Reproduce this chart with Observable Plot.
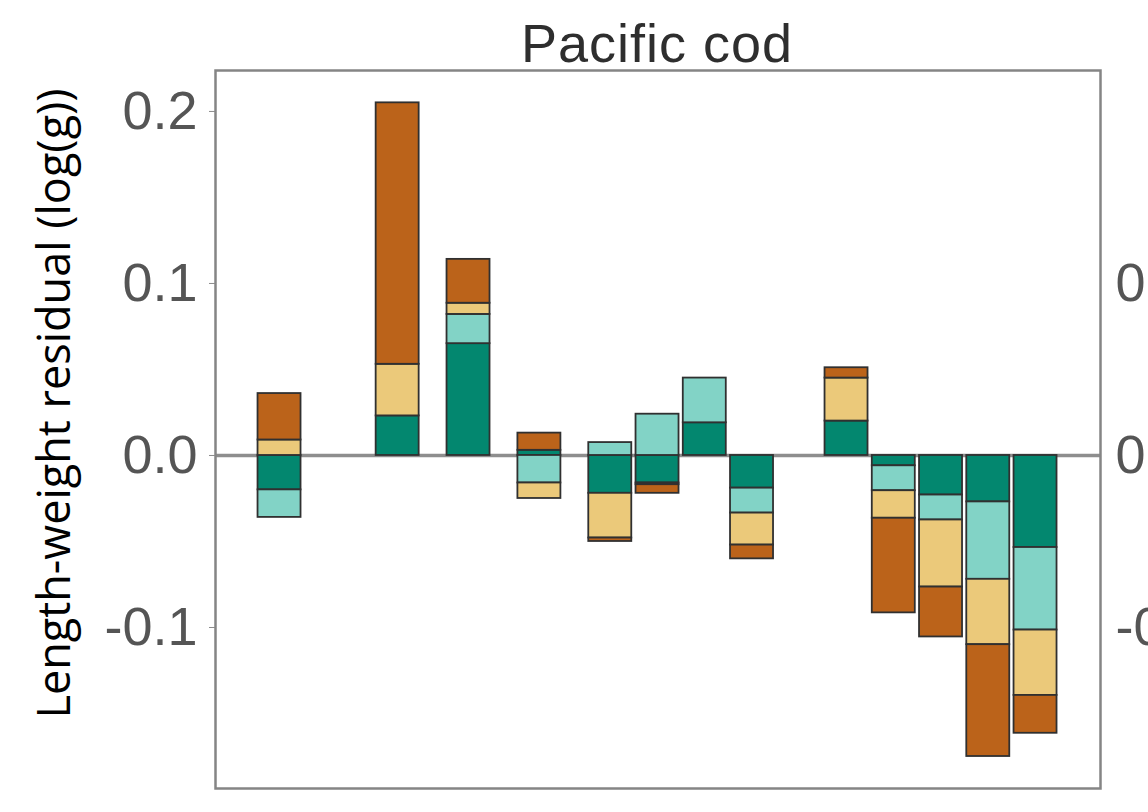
<!DOCTYPE html>
<html>
<head>
<meta charset="utf-8">
<script src="https://cdn.jsdelivr.net/npm/d3@7"></script>
<script src="https://cdn.jsdelivr.net/npm/@observablehq/plot@0.6"></script>
<style>
  html, body { margin: 0; padding: 0; background: #fff; overflow: hidden; }
  #wrap { position: relative; width: 1148px; height: 812px; overflow: hidden; background: #fff; }
  #title { position: relative; height: 68px; }
  #title span {
    position: absolute; left: 657px; top: 16px; transform: translateX(-50%);
    font-family: "Liberation Sans", Arial, sans-serif; font-size: 54px; letter-spacing: 1px;
    color: #2e2e2e; white-space: nowrap; line-height: 1;
  }
  #chart svg { overflow: visible; }
</style>
</head>
<body>
<div id="wrap">
  <div id="title"><span>Pacific cod</span></div>
  <div id="chart"></div>
</div>
<script>
// Survey years (bars)
const years = [1986, 1991, 1994, 1997, 2000, 2002, 2004, 2006, 2010, 2012, 2014, 2016, 2018];

// Stacked components, listed from the zero line outward
const groups = ["Group 4", "Group 3", "Group 2", "Group 1"];
const groupColors = ["#03876f", "#82d3c6", "#ebc97a", "#bb631a"];

const darkTeal  = [-0.020, 0.023, 0.065, 0.003, -0.022, -0.016, 0.019, -0.019, 0.020, -0.006, -0.023, -0.027, -0.0535];
const lightTeal = [-0.016, 0.000, 0.017, -0.016, 0.0075, 0.024, 0.026, -0.0145, 0.000, -0.0145, -0.0145, -0.045, -0.048];
const tan       = [0.009, 0.030, 0.0065, -0.009, -0.026, -0.001, 0.000, -0.0186, 0.025, -0.016, -0.039, -0.038, -0.038];
const brown     = [0.027, 0.152, 0.0255, 0.010, -0.002, -0.005, 0.000, -0.008, 0.006, -0.055, -0.029, -0.065, -0.022];

const yTicks = [0.2, 0.1, 0.0, -0.1];
const neighborTicks = [0.1, 0.0, -0.1];
const yLabel = "Length-weight residual (log(g))";

const seriesValues = [darkTeal, lightTeal, tan, brown];
const table = [];
groups.forEach((g, k) => {
  years.forEach((yr, i) => table.push({year: yr, group: g, value: seriesValues[k][i]}));
});

const halfWidth = 0.91;
const fmt = d => d.toFixed(1);

const chart = Plot.plot({
  width: 1148,
  height: 744,
  marginTop: 2,
  marginBottom: 24,
  marginLeft: 215,
  marginRight: 48,
  style: {fontFamily: "'Liberation Sans', Arial, sans-serif", background: "#fff"},
  x: {domain: [1983.29, 2020.75], axis: null},
  y: {domain: [-0.1936, 0.2238], axis: null},
  color: {domain: groups, range: groupColors},
  marks: [
    Plot.ruleY([0], {stroke: "#8e8e8e", strokeWidth: 3.5}),
    Plot.rectY(table, {
      filter: d => d.value !== 0,
      x1: d => d.year - halfWidth,
      x2: d => d.year + halfWidth,
      y: "value",
      fill: "group",
      stroke: "#303030",
      strokeWidth: 1.8
    }),
    Plot.frame({stroke: "#858585", strokeWidth: 2.5}),
    Plot.axisY({
      ticks: yTicks,
      tickFormat: fmt,
      tickSize: 6,
      tickPadding: 12,
      fontSize: 54,
      stroke: "#8a8a8a",
      fill: "#555",
      label: null
    }),
    Plot.text(neighborTicks, {
      y: d => d,
      text: fmt,
      frameAnchor: "right",
      textAnchor: "start",
      dx: 15,
      fontSize: 54,
      fill: "#555"
    }),
    Plot.text([yLabel], {
      frameAnchor: "left",
      rotate: -90,
      dx: -160,
      dy: -26,
      textAnchor: "middle",
      fontSize: 45,
      fontFamily: "'Open Sans', sans-serif",
      fill: "#000"
    })
  ]
});

document.getElementById("chart").appendChild(chart);
</script>
</body>
</html>
